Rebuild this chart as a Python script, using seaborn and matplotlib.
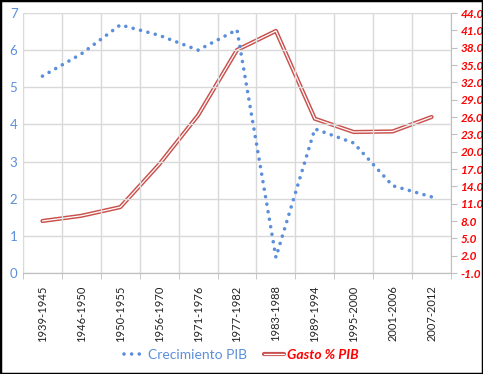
import numpy as np
import pandas as pd
import seaborn as sns
import matplotlib.pyplot as plt
import matplotlib.patheffects as pe
from matplotlib.lines import Line2D
from matplotlib.patches import Rectangle

# datos
periodos = ['1939-1945', '1946-1950', '1950-1955', '1956-1970', '1971-1976', '1977-1982',
            '1983-1988', '1989-1994', '1995-2000', '2001-2006', '2007-2012']
crecimiento_pib = [5.3, 5.9, 6.68, 6.4, 6.0, 6.55, 0.42, 3.88, 3.5, 2.35, 2.05]
gasto_pib = [8.0, 8.9, 10.4, 17.8, 26.3, 37.6, 40.9, 25.7, 23.4, 23.5, 26.0]

azul = '#5B8FDB'
rojo_linea = '#C9504C'
rojo_texto = '#FF0000'
gris_grid = '#D9D9D9'
gris_eje = '#BFBFBF'

df = pd.DataFrame({'periodo': periodos, 'crec': crecimiento_pib, 'gasto': gasto_pib})
df['x'] = np.arange(len(df))

sns.set_style('white')
plt.rcParams['font.family'] = ['Lato', 'DejaVu Sans']

fig = plt.figure(figsize=(4.83, 3.74), dpi=100)
ax = fig.add_axes([23/483, 1-273/374, (451-23)/483, (273-13)/374])
ax2 = ax.twinx()

sns.lineplot(data=df, x='x', y='crec', ax=ax, color=azul, lw=2.6, zorder=3)
ax.lines[0].set_linestyle((0, (0.01, 2.1)))
ax.lines[0].set_dash_capstyle('round')

doble = [pe.Stroke(linewidth=3.0, foreground=rojo_linea), pe.Normal()]
sns.lineplot(data=df, x='x', y='gasto', ax=ax2, color='white', lw=0.9, zorder=2,
             path_effects=doble)

ax.set_zorder(ax2.get_zorder() + 1)
ax.patch.set_visible(False)

ax.set_xlim(-0.5, len(periodos) - 0.5)
ax.set_ylim(0, 7)
ax2.set_ylim(-1, 44)
ax.set_yticks(range(0, 8))
ax2.set_yticks(np.arange(-1, 45, 3))
ax2.set_yticklabels(['{:.1f}'.format(v) for v in np.arange(-1, 45, 3)])

ax.set_xticks(df['x'])
ax.set_xticklabels(periodos, rotation=90, fontsize=8, color='#222222')
ax.set_xticks(np.arange(-0.5, len(periodos), 1), minor=True)
ax.tick_params(axis='x', which='major', length=0, pad=9)
ax.tick_params(axis='x', which='minor', length=4, color=gris_eje, direction='out', bottom=True)
ax.tick_params(axis='y', length=0, labelsize=9.5, labelcolor=azul, pad=4)
ax2.tick_params(axis='y', length=4, color=gris_eje, direction='out', right=True, pad=3)
for t in ax2.get_yticklabels():
    t.set_color(rojo_texto)
    t.set_fontstyle('italic')
    t.set_fontweight('bold')
    t.set_fontsize(8.5)

ax.grid(True, axis='y', color=gris_grid, lw=1)
ax.grid(True, axis='x', which='minor', color=gris_grid, lw=1)
ax.set_axisbelow(True)

for a in (ax, ax2):
    a.set_xlabel('')
    a.set_ylabel('')
    for s in ['top', 'left']:
        a.spines[s].set_visible(False)
    a.spines['bottom'].set_color(gris_eje)
    a.spines['right'].set_color(gris_eje)
ax.spines['right'].set_visible(False)

h1 = Line2D([], [], color=azul, lw=2.6, linestyle=(0, (0.01, 2.1)), dash_capstyle='round')
h2 = Line2D([], [], color='white', lw=0.9, path_effects=doble)
leg = fig.legend([h1, h2], ['Crecimiento PIB', 'Gasto % PIB'], loc='center',
                 bbox_to_anchor=(0.5, 1-355/374), ncol=2, frameon=False, fontsize=10,
                 handlelength=1.5, handletextpad=0.2, columnspacing=1.2)
leg.get_texts()[0].set_color(azul)
leg.get_texts()[1].set_color(rojo_texto)
leg.get_texts()[1].set_fontweight('bold')
leg.get_texts()[1].set_fontstyle('italic')

fig.patches.append(Rectangle((0, 0), 1, 1, transform=fig.transFigure, fill=False,
                             edgecolor='black', lw=2.5))

fig.savefig('out.png', dpi=100)
